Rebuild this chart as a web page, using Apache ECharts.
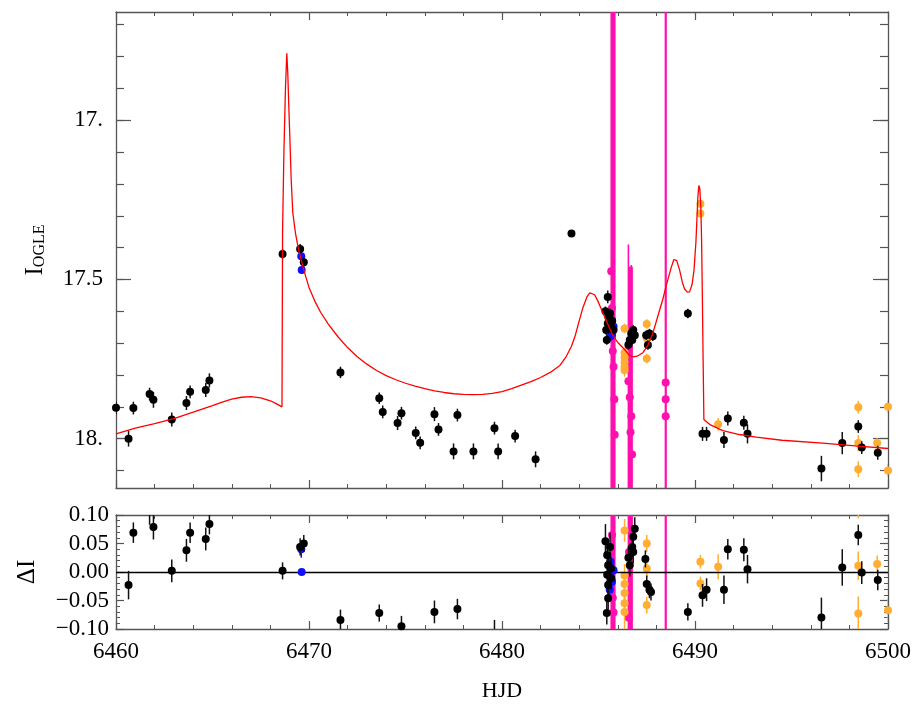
<!DOCTYPE html>
<html><head><meta charset="utf-8">
<script src="https://cdn.jsdelivr.net/npm/echarts@6/dist/echarts.min.js"></script>
<style>html,body{margin:0;padding:0;background:#fff}#c{width:916px;height:706px}</style>
</head><body><div id="c"></div>
<script>
// ---- data: [HJD, I, err] ----
const blackTop = [
[6460.0,17.903,0.02],[6460.65,18.0,0.025],[6460.9,17.904,0.02],[6461.74,17.86,0.02],[6461.94,17.878,0.025],
[6462.89,17.94,0.022],[6463.65,17.888,0.022],[6463.84,17.853,0.02],[6464.65,17.847,0.022],[6464.84,17.817,0.022],
[6468.63,17.42,0.015],[6469.54,17.404,0.015],[6469.73,17.446,0.015],[6471.63,17.792,0.018],[6473.64,17.873,0.018],
[6473.82,17.916,0.02],[6474.59,17.951,0.022],[6474.79,17.92,0.02],[6475.53,17.982,0.02],[6475.76,18.013,0.02],
[6476.5,17.923,0.022],[6476.71,17.971,0.02],[6477.49,18.04,0.025],[6477.69,17.926,0.02],[6478.52,18.04,0.025],
[6479.61,17.967,0.02],[6479.8,18.04,0.025],[6480.68,17.992,0.02],[6481.74,18.065,0.025],[6483.6,17.356,0.01],
[6485.48,17.555,0.02],[6485.36,17.6,0.015],[6485.6,17.607,0.015],[6485.53,17.622,0.015],[6485.71,17.63,0.015],
[6485.48,17.638,0.015],[6485.66,17.649,0.015],[6485.78,17.659,0.015],[6485.4,17.659,0.015],[6485.43,17.69,0.015],
[6486.55,17.705,0.015],[6486.62,17.69,0.015],[6486.7,17.67,0.015],[6486.75,17.69,0.015],[6486.8,17.659,0.015],[6486.88,17.675,0.015],
[6487.47,17.675,0.015],[6487.64,17.67,0.015],[6487.81,17.678,0.015],[6487.56,17.706,0.015],
[6489.63,17.607,0.015],[6490.39,17.985,0.022],[6490.6,17.985,0.022],[6491.5,18.004,0.025],[6491.7,17.937,0.022],
[6492.53,17.95,0.022],[6492.72,17.985,0.03],[6496.55,18.094,0.04],[6497.63,18.014,0.035],[6498.46,17.962,0.02],
[6498.64,18.028,0.02],[6499.47,18.044,0.022]
];
const blueTop = [
[6469.6,17.427,0.015],[6469.62,17.47,0.012],[6485.62,17.633,0.015],[6485.78,17.648,0.015],[6485.7,17.675,0.015],[6485.58,17.68,0.015]
];
const orangeTop = [
[6486.35,17.654,0.015],[6486.35,17.73,0.015],[6486.35,17.745,0.015],[6486.35,17.76,0.015],[6486.35,17.775,0.015],[6486.35,17.785,0.02],
[6487.5,17.64,0.015],[6487.5,17.685,0.015],[6487.5,17.748,0.015],[6490.28,17.262,0.012],[6490.28,17.293,0.012],
[6491.2,17.955,0.02],[6498.46,17.901,0.02],[6498.46,18.014,0.025],[6498.46,18.096,0.025],[6499.44,18.014,0.015],
[6500.0,17.9,0.02],[6500.0,18.1,0.02]
];
const magentaTop = [
[6485.66,17.474,1.5],[6485.7,17.59,1.5],[6485.74,17.725,1.5],[6485.78,17.774,1.5],[6485.82,17.876,1.5],[6485.84,17.988,1.5],
[6486.58,17.71,0.25],[6486.55,17.82,0.43],[6486.62,17.87,0.41],[6486.7,17.93,0.475],[6486.66,17.98,0.52],[6486.74,18.05,0.59],
[6488.48,17.824,1.5],[6488.48,17.876,1.5],[6488.48,17.93,1.5]
];
// model light curve [HJD, I]
const model = [
[6460,17.985],[6461,17.967],[6462,17.953],[6463,17.937],[6464,17.917],[6465,17.896],[6465.5,17.885],[6466,17.876],
[6466.5,17.870],[6467,17.868],[6467.5,17.872],[6468,17.881],[6468.3,17.890],[6468.6,17.9],[6468.63,17.35],[6468.7,17.1],
[6468.78,16.9],[6468.85,16.79],[6468.9,16.85],[6468.95,16.95],[6469.0,17.04],[6469.08,17.19],[6469.16,17.29],[6469.3,17.355],
[6469.45,17.403],[6469.6,17.44],[6469.8,17.485],[6470.0,17.525],[6470.3,17.568],[6470.6,17.603],[6471.0,17.64],[6471.5,17.68],
[6472.0,17.714],[6472.5,17.743],[6473,17.766],[6473.5,17.786],[6474,17.802],[6474.5,17.815],[6475,17.826],[6475.5,17.835],
[6476,17.843],[6476.5,17.850],[6477,17.855],[6477.5,17.859],[6478,17.861],[6478.5,17.862],[6479,17.861],[6479.5,17.858],
[6480,17.852],[6480.5,17.843],[6481,17.832],[6481.5,17.821],[6482,17.808],[6482.5,17.792],[6483,17.77],[6483.3,17.745],
[6483.6,17.71],[6483.8,17.675],[6484.0,17.63],[6484.2,17.587],[6484.4,17.555],[6484.55,17.542],[6484.65,17.539],[6484.8,17.548],
[6485.0,17.572],[6485.22,17.604],[6485.5,17.643],[6485.74,17.675],[6486.0,17.698],[6486.35,17.72],[6486.6,17.738],[6486.8,17.743],
[6487.0,17.741],[6487.3,17.73],[6487.55,17.708],[6487.81,17.67],[6488.1,17.61],[6488.33,17.563],[6488.55,17.51],[6488.77,17.462],
[6488.9,17.438],[6488.97,17.434],[6489.05,17.44],[6489.2,17.47],[6489.35,17.51],[6489.46,17.53],[6489.6,17.54],[6489.72,17.539],
[6489.85,17.515],[6489.95,17.47],[6490.05,17.38],[6490.1,17.31],[6490.15,17.24],[6490.2,17.205],[6490.25,17.215],[6490.3,17.27],
[6490.34,17.37],[6490.38,17.55],[6490.42,17.75],[6490.46,17.94],[6490.8,17.957],[6491.44,17.975],[6492.3,17.987],[6493.17,17.995],
[6494.5,18.005],[6496.62,18.014],[6498.3,18.023],[6500,18.031]
];
// ---- residuals: [HJD, dI, err] ----
const blackRes = [
[6460.65,-0.023,0.025],[6460.9,0.069,0.018],[6461.74,0.103,0.02],[6461.94,0.079,0.022],[6462.89,0.002,0.02],
[6463.65,0.038,0.02],[6463.84,0.069,0.018],[6464.65,0.058,0.02],[6464.84,0.084,0.018],[6468.63,0.002,0.015],
[6469.54,0.044,0.015],[6469.73,0.05,0.015],[6471.63,-0.084,0.018],[6473.64,-0.072,0.015],[6474.79,-0.095,0.018],
[6476.5,-0.07,0.02],[6477.69,-0.065,0.018],[6479.61,-0.104,0.02],
[6485.36,0.054,0.03],[6485.6,0.044,0.025],[6485.45,0.03,0.02],[6485.5,0.012,0.02],[6485.65,0.006,0.02],
[6485.45,-0.005,0.02],[6485.66,-0.011,0.02],[6485.5,-0.023,0.02],[6485.5,-0.046,0.02],[6485.43,-0.072,0.02],
[6486.88,0.076,0.02],[6486.8,0.062,0.02],[6486.75,0.044,0.02],[6486.8,0.035,0.02],[6486.55,0.025,0.02],[6486.62,0.012,0.02],
[6487.43,0.023,0.015],[6487.5,-0.021,0.015],[6487.64,-0.031,0.015],[6487.72,-0.035,0.015],
[6489.63,-0.07,0.015],[6490.39,-0.041,0.02],[6490.6,-0.031,0.02],[6491.5,-0.031,0.025],[6491.7,0.04,0.018],
[6492.53,0.039,0.02],[6492.72,0.005,0.025],[6496.55,-0.08,0.035],[6497.63,0.008,0.032],[6498.46,0.065,0.018],
[6498.64,-0.001,0.02],[6499.47,-0.014,0.018]
];
const blueRes = [
[6469.6,0.04,0.015],[6469.62,0.0,0.005],[6485.62,0.018,0.015],[6485.78,0.003,0.015],[6485.7,-0.017,0.015],[6485.58,-0.031,0.015]
];
const orangeRes = [
[6486.35,0.073,0.02],[6486.35,-0.006,0.02],[6486.35,-0.021,0.02],[6486.35,-0.037,0.02],[6486.35,-0.055,0.02],[6486.35,-0.07,0.03],
[6487.5,0.05,0.015],[6487.5,0.006,0.015],[6487.5,-0.058,0.015],[6490.28,0.018,0.012],[6490.28,-0.02,0.012],
[6491.2,0.009,0.022],[6498.46,0.124,0.03],[6498.46,0.011,0.025],[6498.46,-0.073,0.03],[6499.44,0.014,0.015],
[6500.0,-0.067,0.02],[6500.0,0.13,0.02]
];
const magentaRes = [
[6485.66,0.21,1.5],[6485.7,0.065,1.5],[6485.74,-0.045,1.5],[6485.78,-0.071,1.5],[6485.82,-0.2,1.5],[6485.84,-0.31,1.5],
[6486.58,0.035,1.5],[6486.55,-0.08,1.5],[6486.62,-0.13,1.5],[6486.7,-0.19,1.5],[6486.66,-0.3,1.5],[6486.74,-0.4,1.5],
[6488.48,-0.32,1.5],[6488.48,-0.38,1.5],[6488.48,-0.43,1.5]
];
const yMajor = [17, 17.5, 18];

const FONT = "'Liberation Serif','Times New Roman',serif";
const FRAME = '#555';
const C = {black:'#000000', blue:'#1010ff', orange:'#ffad33', magenta:'#ff0fae', red:'#ff0000'};
const yMinor = [];
for (let k = 167; k <= 181; k++) yMinor.push(k / 10);

function errSeries(data, color, lw, xi, yi, z) {
  return {
    type: 'custom', xAxisIndex: xi, yAxisIndex: yi, clip: true, z: z, silent: true,
    data: data, encode: {x: 0, y: 1},
    renderItem: function (params, api) {
      const x = api.value(0), y = api.value(1), e = api.value(2);
      const p1 = api.coord([x, y - e]), p2 = api.coord([x, y + e]);
      return {type: 'line', shape: {x1: p1[0], y1: p1[1], x2: p2[0], y2: p2[1]},
              style: {stroke: color, lineWidth: lw}};
    }
  };
}
function dots(data, color, size, xi, yi, z) {
  return {type: 'scatter', xAxisIndex: xi, yAxisIndex: yi, clip: true, z: z, silent: true,
    data: data.map(d => [d[0], d[1]]), symbolSize: size, itemStyle: {color: color, opacity: 1}};
}
function xAx(grid, pos, labels) {
  return {type: 'value', gridIndex: grid, position: pos, min: 6460, max: 6500, interval: 10,
    axisLine: {show: true, onZero: false, lineStyle: {color: FRAME, width: 1.3}},
    axisTick: {show: true, inside: true, length: 8, lineStyle: {color: FRAME, width: 1.2}},
    minorTick: {show: true, splitNumber: 5, length: 4, lineStyle: {color: FRAME, width: 1}},
    splitLine: {show: false},
    axisLabel: {show: labels, color: '#000', fontFamily: FONT, fontSize: 23, margin: 11,
      formatter: v => String(v)},
    name: labels ? 'HJD' : '', nameLocation: 'middle', nameGap: 51,
    nameTextStyle: {color: '#000', fontFamily: FONT, fontSize: 22}};
}
function yTop(pos, vals, len, labels, line) {
  return {type: 'value', gridIndex: 0, position: pos, inverse: true, min: 16.66, max: 18.155,
    axisLine: {show: line, onZero: false, lineStyle: {color: FRAME, width: 1.3}},
    axisTick: {show: true, inside: true, length: len, customValues: vals, lineStyle: {color: FRAME, width: 1.2}},
    splitLine: {show: false},
    axisLabel: {show: labels, customValues: vals, color: '#000', fontFamily: FONT, fontSize: 23, margin: 13,
      formatter: v => Number.isInteger(v) ? v + '.' : String(v)},
    name: labels ? '{i|I}{s|OGLE}' : '', nameLocation: 'middle', nameGap: 68, nameRotate: 90,
    nameTextStyle: {color: '#000', rich: {
      i: {fontFamily: FONT, fontSize: 25, color: '#000', lineHeight: 26, verticalAlign: 'middle'},
      s: {fontFamily: FONT, fontSize: 16, color: '#000', lineHeight: 6, verticalAlign: 'bottom'}}}};
}
function yBot(pos, labels) {
  return {type: 'value', gridIndex: 1, position: pos, min: -0.1, max: 0.1, interval: 0.05,
    axisLine: {show: true, onZero: false, lineStyle: {color: FRAME, width: 1.3}},
    axisTick: {show: true, inside: true, length: 8, lineStyle: {color: FRAME, width: 1.2}},
    minorTick: {show: true, splitNumber: 5, length: 4, lineStyle: {color: FRAME, width: 1}},
    splitLine: {show: false},
    axisLabel: {show: labels, color: '#000', fontFamily: FONT, fontSize: 23, margin: 7,
      formatter: v => (v < 0 ? '\u2212' : '') + Math.abs(v).toFixed(2)},
    name: labels ? '\u0394I' : '', nameLocation: 'middle', nameGap: 76, nameRotate: 90,
    nameTextStyle: {color: '#000', fontFamily: FONT, fontSize: 25}};
}

const chart = echarts.init(document.getElementById('c'), null, {renderer: 'canvas'});
chart.setOption({
  animation: false,
  backgroundColor: '#fff',
  grid: [
    {left: 116, top: 12, width: 772, height: 476, containLabel: false},
    {left: 116, top: 515, width: 772, height: 114, containLabel: false}
  ],
  xAxis: [xAx(0, 'bottom', false), xAx(0, 'top', false), xAx(1, 'bottom', true), xAx(1, 'top', false)],
  yAxis: [
    yTop('left', yMajor, 15, true, true), yTop('left', yMinor, 8, false, false),
    yTop('right', yMajor, 15, false, true), yTop('right', yMinor, 8, false, false),
    yBot('left', true), yBot('right', false)
  ],
  series: [
    errSeries(magentaTop, C.magenta, 1.6, 0, 0, 1), dots(magentaTop, C.magenta, 8, 0, 0, 2),
    errSeries(orangeTop, C.orange, 1.5, 0, 0, 3), dots(orangeTop, C.orange, 8, 0, 0, 4),
    errSeries(blueTop, C.blue, 1.5, 0, 0, 5), dots(blueTop, C.blue, 8, 0, 0, 6),
    errSeries(blackTop, '#111', 1.5, 0, 0, 7), dots(blackTop, C.black, 8, 0, 0, 8),
    {type: 'line', xAxisIndex: 0, yAxisIndex: 0, data: model, showSymbol: false, smooth: false, clip: true, z: 9,
     lineStyle: {color: C.red, width: 1.3}, silent: true},
    errSeries(magentaRes, C.magenta, 1.6, 2, 4, 1), dots(magentaRes, C.magenta, 8, 2, 4, 2),
    errSeries(orangeRes, C.orange, 1.5, 2, 4, 3), dots(orangeRes, C.orange, 8, 2, 4, 4),
    errSeries(blueRes, C.blue, 1.5, 2, 4, 5), dots(blueRes, C.blue, 8, 2, 4, 6),
    errSeries(blackRes, '#111', 1.5, 2, 4, 7), dots(blackRes, C.black, 8, 2, 4, 8),
    {type: 'line', xAxisIndex: 2, yAxisIndex: 4, data: [], z: 9, silent: true,
     markLine: {silent: true, symbol: 'none', label: {show: false},
       lineStyle: {color: '#000', width: 1.3, type: 'solid'}, data: [{yAxis: 0}]}}
  ]
});
</script></body></html>
